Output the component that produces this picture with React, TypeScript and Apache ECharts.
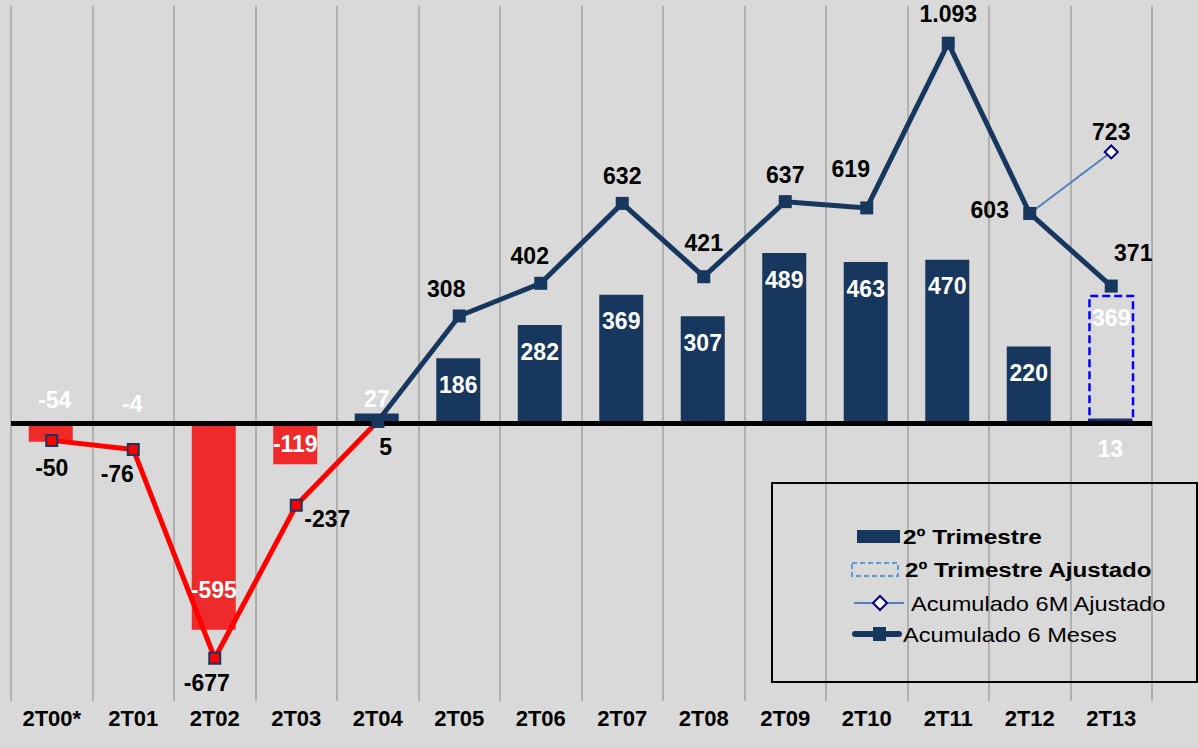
import React, { useEffect, useRef } from 'react';
import * as echarts from 'echarts';

const categories = ['2T00*', '2T01', '2T02', '2T03', '2T04', '2T05', '2T06', '2T07', '2T08', '2T09', '2T10', '2T11', '2T12', '2T13'];
const trimestre2 = [-54, -4, -595, -119, 27, 186, 282, 369, 307, 489, 463, 470, 220, 13];
const trimestre2Ajustado = [null, null, null, null, null, null, null, null, null, null, null, null, null, 369];
// plotted positions
const acumulado6Meses = [-50, -76, -677, -237, 5, 308, 402, 632, 421, 637, 619, 1093, 603, 394];
const acumulado6MesesRotulos = ['-50', '-76', '-677', '-237', '5', '308', '402', '632', '421', '637', '619', '1.093', '603', '371'];
const acumulado6MAjustado = [null, null, null, null, null, null, null, null, null, null, null, null, 603, 780];
const acumulado6MAjustadoRotulos = ['', '', '', '', '', '', '', '', '', '', '', '', '', '723'];

const NAVY = '#17375e';
const RED_BAR = '#ee2a2a';
const RED_LINE = '#ff0000';
const FONT = '"Liberation Sans", Arial, sans-serif';

// label placement (style only)
const barLabelPlacement: any[] = [
  { position: 'top', distance: 12, offset: [4, 0] },
  { position: 'top', distance: 8 },
  { position: 'insideBottom', distance: 28 },
  { position: 'inside' },
  { position: 'top', distance: 3 },
  { position: 'insideTop', distance: 15 },
  { position: 'insideTop', distance: 15 },
  { position: 'insideTop', distance: 15 },
  { position: 'insideTop', distance: 15 },
  { position: 'insideTop', distance: 15 },
  { position: 'insideTop', distance: 15 },
  { position: 'insideTop', distance: 15 },
  { position: 'insideTop', distance: 15 },
  { position: 'bottom', distance: 14 },
];
const lineLabelOffsets: number[][] = [
  [0, 28], [-16, 25], [-8, 25], [31, 14], [8, 26], [-13, -27], [-11, -27],
  [0, -27], [0, -34], [0, -27], [-16, -39], [0, -29], [-40, -3], [22, -33],
];
const ajustLabelOffset = [0, -20];

export default function App() {
  const ref = useRef<HTMLDivElement>(null);
  useEffect(() => {
    if (!ref.current) return;
    const chart = echarts.init(ref.current, undefined, { renderer: 'svg' });
    const dataLabel = { color: '#000', fontSize: 23, fontWeight: 'bold', fontFamily: FONT };

    const barData = trimestre2.map((v, i) => ({
      value: v,
      itemStyle: { color: v < 0 ? RED_BAR : NAVY },
      label: { show: true, ...barLabelPlacement[i] },
    }));

    const redData = acumulado6Meses.map((v, i) =>
      i <= 4
        ? {
            value: v,
            label: i < 4
              ? { show: true, position: 'inside', offset: lineLabelOffsets[i], formatter: acumulado6MesesRotulos[i] }
              : { show: false },
          }
        : null
    );
    const navyData = acumulado6Meses.map((v, i) =>
      i >= 4
        ? {
            value: v,
            label: { show: true, position: 'inside', offset: lineLabelOffsets[i], formatter: acumulado6MesesRotulos[i] },
          }
        : null
    );
    const ajData = acumulado6MAjustado.map((v, i) =>
      v === null
        ? null
        : {
            value: v,
            symbol: acumulado6MAjustadoRotulos[i] ? 'diamond' : 'none',
            label: acumulado6MAjustadoRotulos[i]
              ? { show: true, position: 'inside', offset: ajustLabelOffset, formatter: acumulado6MAjustadoRotulos[i] }
              : { show: false },
          }
    );

    const lx = 772, ly = 483;
    chart.setOption({
      animation: false,
      backgroundColor: '#d9d9d9',
      grid: { left: 11, right: 46, top: 6, bottom: 47, containLabel: false },
      xAxis: {
        type: 'category',
        data: categories,
        axisLine: { show: false },
        axisTick: { show: false },
        axisLabel: { color: '#000', fontSize: 22, fontWeight: 'bold', fontFamily: FONT, margin: 6 },
        splitLine: { show: true, lineStyle: { color: '#b0b0b0', width: 2 } },
      },
      yAxis: {
        type: 'value',
        min: -800,
        max: 1200,
        show: false,
        splitLine: { show: false },
      },
      series: [
        {
          name: '2º Trimestre',
          type: 'bar',
          data: barData,
          barWidth: 44,
          barGap: '-100%',
          z: 2,
          label: { color: '#fff', fontSize: 23, fontWeight: 'bold', fontFamily: FONT },
        },
        {
          name: '2º Trimestre Ajustado',
          type: 'bar',
          data: trimestre2Ajustado,
          barWidth: 46,
          barGap: '-100%',
          z: 2,
          itemStyle: { color: 'rgba(0,0,0,0)', borderColor: '#0000ff', borderWidth: 2.5, borderType: [8, 4] },
          label: { show: true, position: 'insideTop', distance: 12, color: '#fff', fontSize: 23, fontWeight: 'bold', fontFamily: FONT },
        },
        {
          name: 'zero',
          type: 'line',
          data: [],
          z: 3,
          markLine: {
            silent: true,
            symbol: ['none', 'none'],
            label: { show: false },
            lineStyle: { color: '#000', width: 5, type: 'solid' },
            data: [{ yAxis: 0 }],
          },
        },
        {
          name: 'Acumulado 6M Ajustado',
          type: 'line',
          data: ajData,
          z: 4,
          symbol: 'diamond',
          symbolSize: 13,
          lineStyle: { color: '#4f81bd', width: 2 },
          itemStyle: { color: '#fff', borderColor: '#000080', borderWidth: 2 },
          label: dataLabel,
        },
        {
          name: 'Acumulado 6 Meses (neg)',
          type: 'line',
          data: redData,
          z: 4,
          symbol: 'rect',
          symbolSize: 11,
          lineStyle: { color: RED_LINE, width: 5 },
          itemStyle: { color: RED_LINE, borderColor: NAVY, borderWidth: 2 },
          label: dataLabel,
        },
        {
          name: 'Acumulado 6 Meses',
          type: 'line',
          data: navyData,
          z: 5,
          symbol: 'rect',
          symbolSize: 13,
          lineStyle: { color: NAVY, width: 5 },
          itemStyle: { color: NAVY },
          label: dataLabel,
        },
      ],
      graphic: [
        { type: 'rect', shape: { x: lx, y: ly, width: 425, height: 199 }, style: { fill: 'none', stroke: '#000', lineWidth: 2 }, z: 10 },
        { type: 'rect', shape: { x: 857, y: 530, width: 43, height: 13 }, style: { fill: NAVY }, z: 10 },
        { type: 'text', x: 903, y: 537, scaleX: 1.16, style: { text: '2º Trimestre', fill: '#000', font: `bold 21px ${FONT}`, verticalAlign: 'middle' }, z: 10 },
        { type: 'rect', shape: { x: 852, y: 563, width: 46, height: 13 }, style: { fill: 'none', stroke: '#5b9bd5', lineWidth: 2, lineDash: [5, 3] }, z: 10 },
        { type: 'text', x: 905, y: 570, scaleX: 1.15, style: { text: '2º Trimestre Ajustado', fill: '#000', font: `bold 21px ${FONT}`, verticalAlign: 'middle' }, z: 10 },
        { type: 'line', shape: { x1: 854, y1: 603, x2: 904, y2: 603 }, style: { stroke: '#4f81bd', lineWidth: 2 }, z: 10 },
        { type: 'polygon', shape: { points: [[880, 596], [887, 603], [880, 610], [873, 603]] }, style: { fill: '#fff', stroke: '#000080', lineWidth: 2 }, z: 11 },
        { type: 'text', x: 911, y: 604, scaleX: 1.18, style: { text: 'Acumulado 6M Ajustado', fill: '#000', font: `20px ${FONT}`, verticalAlign: 'middle' }, z: 10 },
        { type: 'line', shape: { x1: 855, y1: 634, x2: 899, y2: 634 }, style: { stroke: NAVY, lineWidth: 6, lineCap: 'round' }, z: 10 },
        { type: 'rect', shape: { x: 873, y: 627, width: 13, height: 14 }, style: { fill: NAVY }, z: 11 },
        { type: 'text', x: 903, y: 635, scaleX: 1.18, style: { text: 'Acumulado 6 Meses', fill: '#000', font: `20px ${FONT}`, verticalAlign: 'middle' }, z: 10 },
      ],
    });
    return () => chart.dispose();
  }, []);
  return (
    <div
      ref={ref}
      style={{ position: 'fixed', left: 0, top: 0, width: 1198, height: 748, background: '#d9d9d9' }}
    />
  );
}
